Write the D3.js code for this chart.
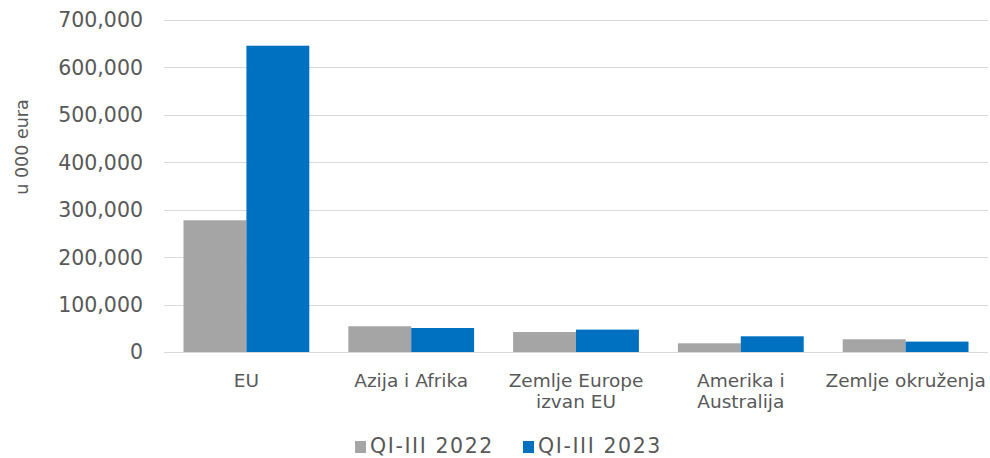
<!DOCTYPE html>
<html lang="hr">
<head>
<meta charset="UTF-8">
<title>u 000 eura</title>
<script src="https://d3js.org/d3.v7.min.js"></script>
<style>
  body { margin: 0; background: #fff; }
  svg { display: block; font-family: "DejaVu Sans", Verdana, sans-serif; }
  .grid line { stroke: #d9d9d9; stroke-width: 1; shape-rendering: crispEdges; }
  .ytick text { fill: #595959; font-size: 20.5px; }
  .xlab text { fill: #595959; font-size: 18.5px; }
  .legend text { fill: #595959; font-size: 20.5px; letter-spacing: 1.6px; }
</style>
</head>
<body>
<script>

// categories (line breaks as in the chart)
var categories = ["EU", "Azija i Afrika", "Zemlje Europe\nizvan EU", "Amerika i\nAustralija", "Zemlje okruženja"];
var seriesNames = ["QI-III 2022", "QI-III 2023"];
var values2022 = [277700, 54200, 42200, 18300, 26800];
var values2023 = [645800, 50600, 47200, 33100, 21900];
var yTicks = [0, 100000, 200000, 300000, 400000, 500000, 600000, 700000];
var colors = ["#a5a5a5", "#0070c0"];

var W = 990, H = 458;
var plot = {left: 164, right: 988, top: 20, bottom: 352};

var svg = d3.select("body").append("svg")
    .attr("width", W)
    .attr("height", H);

var y = d3.scaleLinear().domain([0, 700000]).range([plot.bottom, plot.top]);
var x0 = d3.scaleBand().domain(categories).range([plot.left, plot.right]);
var x1 = d3.scaleBand().domain(seriesNames).range([0, x0.bandwidth()]).paddingInner(0).paddingOuter(0.31);

// gridlines
svg.append("g").attr("class", "grid")
  .selectAll("line")
  .data(yTicks)
  .enter().append("line")
    .attr("x1", plot.left)
    .attr("x2", plot.right)
    .attr("y1", function(d) { return Math.round(y(d)) + 0.5; })
    .attr("y2", function(d) { return Math.round(y(d)) + 0.5; });

// y tick labels
var fmt = d3.format(",");
svg.append("g").attr("class", "ytick")
  .selectAll("text")
  .data(yTicks)
  .enter().append("text")
    .attr("x", plot.left - 21)
    .attr("y", function(d) { return y(d); })
    .attr("dy", "0.36em")
    .attr("text-anchor", "end")
    .text(function(d) { return fmt(d); });

// y axis title
svg.append("text")
    .attr("transform", "translate(28,147) rotate(-90)")
    .attr("text-anchor", "middle")
    .style("font-size", "17.5px")
    .style("fill", "#595959")
    .text("u 000 eura");

// bars
var rows = categories.map(function(c, i) {
  return {cat: c, vals: [values2022[i], values2023[i]]};
});

var group = svg.selectAll(".cat")
  .data(rows)
  .enter().append("g")
    .attr("class", "cat")
    .attr("transform", function(d) { return "translate(" + x0(d.cat) + ",0)"; });

group.selectAll("rect")
  .data(function(d) { return d.vals.map(function(v, k) { return {key: seriesNames[k], value: v, k: k}; }); })
  .enter().append("rect")
    .attr("x", function(d) { return x1(d.key); })
    .attr("width", x1.bandwidth())
    .attr("y", function(d) { return y(d.value); })
    .attr("height", function(d) { return y(0) - y(d.value); })
    .attr("fill", function(d) { return colors[d.k]; });

// category labels
var xl = svg.append("g").attr("class", "xlab")
  .selectAll("text")
  .data(categories)
  .enter().append("text")
    .attr("text-anchor", "middle")
    .attr("x", function(d) { return x0(d) + x0.bandwidth() / 2; })
    .attr("y", 387);

xl.selectAll("tspan")
  .data(function(d) { return d.split("\n"); })
  .enter().append("tspan")
    .attr("x", function() { return d3.select(this.parentNode).attr("x"); })
    .attr("dy", function(d, i) { return i === 0 ? 0 : 21; })
    .text(function(d) { return d; });

// legend
var legendX = [355, 523];
var lg = svg.append("g").attr("class", "legend")
  .selectAll("g")
  .data(seriesNames)
  .enter().append("g")
    .attr("transform", function(d, i) { return "translate(" + legendX[i] + ",0)"; });

lg.append("rect")
    .attr("x", 0)
    .attr("y", 441)
    .attr("width", 11)
    .attr("height", 12)
    .attr("fill", function(d, i) { return colors[i]; });

lg.append("text")
    .attr("x", 15)
    .attr("y", 453)
    .text(function(d) { return d; });

</script>
</body>
</html>
